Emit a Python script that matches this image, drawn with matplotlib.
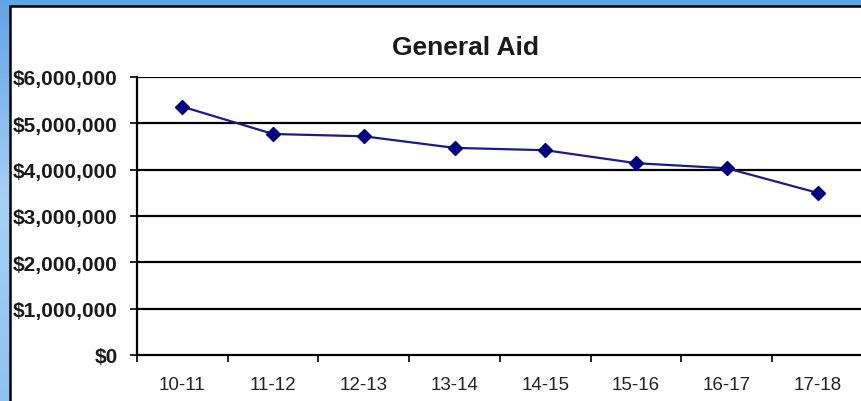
import numpy as np
import matplotlib
matplotlib.use('Agg')
import matplotlib.pyplot as plt
from matplotlib.patches import Rectangle
from matplotlib.ticker import FuncFormatter, FixedLocator

## data
years = ['10-11', '11-12', '12-13', '13-14', '14-15', '15-16', '16-17', '17-18']
aid = [5360000, 4770000, 4720000, 4470000, 4420000, 4140000, 4030000, 3500000]
yticks = [0, 1000000, 2000000, 3000000, 4000000, 5000000, 6000000]

plt.rcParams['font.family'] = ['Liberation Sans', 'DejaVu Sans']

W, H = 862, 402
fig = plt.figure(figsize=(W / 100, H / 100), dpi=100)

## blue backdrop behind the chart panel
bg = fig.add_axes([0, 0, 1, 1])
bg.set_zorder(-2)
grad = np.linspace(0, 1, 256).reshape(-1, 1)
cmap = matplotlib.colors.LinearSegmentedColormap.from_list('bg', ['#62a3e4', '#a6d0f6', '#8fc2f1'])
bg.imshow(grad, aspect='auto', cmap=cmap, extent=[0, 1, 0, 1])
bg.axis('off')

## white panel with black border
panel = Rectangle((10 / W, -0.05), 1.0, 1 - 7 / H + 0.05, transform=fig.transFigure,
                  facecolor='white', edgecolor='black', linewidth=1.8, zorder=-1)
fig.patches.append(panel)

## plot area
x0, x1 = 137, 863
ytop, ybot = 78, 356
ax = fig.add_axes([x0 / W, (H - ybot) / H, (x1 - x0) / W, (ybot - ytop) / H])
ax.set_zorder(1)
ax.set_facecolor('none')

pos = np.arange(len(years)) + 0.5
ax.plot(pos, aid, color='#1c1c85', linewidth=1.6, marker='D', markersize=7.4,
        markerfacecolor='#000080', markeredgecolor='#000080', zorder=3)

for v in yticks[1:]:
    ax.axhline(v, color='black', linewidth=1.6, zorder=2)

ax.set_xlim(0, len(years))
ax.set_ylim(0, 6000000)
ax.set_yticks(yticks)
ax.yaxis.set_major_formatter(FuncFormatter(lambda v, p: '${:,.0f}'.format(v)))

# category boundaries get the tick marks, labels sit in between
ax.xaxis.set_major_locator(FixedLocator(np.arange(len(years) + 1)))
ax.xaxis.set_minor_locator(FixedLocator(pos))
ax.set_xticklabels([])
ax.set_xticklabels(years, minor=True)
ax.tick_params(axis='x', which='major', length=5, width=1.2, direction='out', color='black')
ax.tick_params(axis='x', which='minor', length=0, pad=15, labelsize=13.5, labelcolor='#222222')
ax.tick_params(axis='y', length=5, width=1.2, direction='out', pad=9,
               labelsize=15, labelcolor='#1a1a1a')
for lab in ax.get_yticklabels():
    lab.set_fontweight('bold')

for s in ['top', 'right']:
    ax.spines[s].set_visible(False)
for s in ['left', 'bottom']:
    ax.spines[s].set_linewidth(1.6)
    ax.spines[s].set_color('black')

fig.text(466 / W, 1 - 48 / H, 'General Aid', ha='center', va='center',
         fontsize=19, fontweight='bold', color='#1a1a1a')

plt.savefig('out.png', dpi=100)
